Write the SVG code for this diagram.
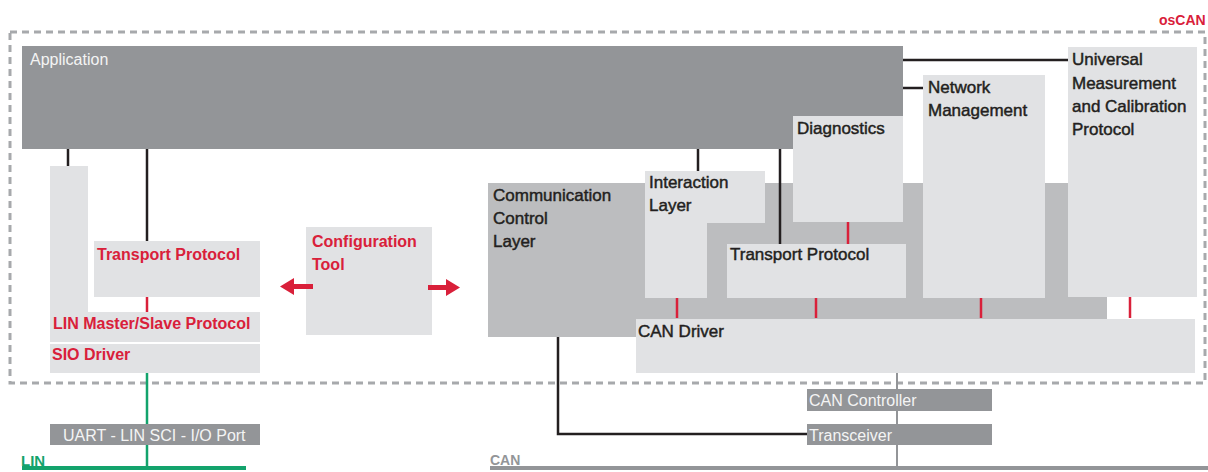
<svg xmlns="http://www.w3.org/2000/svg" width="1208" height="472" viewBox="0 0 1208 472">
<defs>
<style>
.dark{fill:#939598}
.light{fill:#e1e2e4}
.mid{fill:#bcbdbf}
.t{font-family:"Liberation Sans",Arial,sans-serif;font-size:17px;fill:#231f20;stroke:#231f20;stroke-width:0.45}
.tw{font-family:"Liberation Sans",Arial,sans-serif;font-size:16px;fill:#f4f4f4}
.tr{font-family:"Liberation Sans",Arial,sans-serif;font-size:16px;fill:#d9203a;font-weight:bold}
.blk{stroke:#231f20;stroke-width:2.5;fill:none}
.red{stroke:#d9203a;stroke-width:2.5;fill:none}
.grn{stroke:#13a36c;fill:none}
.gry{stroke:#939598;fill:none}
.arr{fill:#d9203a}
</style>
</defs>
<rect width="1208" height="472" fill="#ffffff"/>

<g id="oscan-boundary">
<rect x="10" y="32" width="1195" height="351" fill="none" stroke="#a7a9ac" stroke-width="3" stroke-dasharray="7,5"/>
<text x="1159" y="25" class="tr" style="font-size:14px">osCAN</text>
</g>

<g id="ccl">
<rect x="488" y="183" width="619" height="154" class="mid"/>
<text class="t"><tspan x="493" y="201">Communication</tspan><tspan x="493" y="224">Control</tspan><tspan x="493" y="247">Layer</tspan></text>
</g>

<g id="application">
<rect x="22" y="46" width="881" height="103" class="dark"/>
<text x="30" y="65" class="tw">Application</text>
</g>

<g id="diagnostics">
<rect x="793" y="116" width="110" height="106" class="light"/>
<text x="797" y="134" class="t">Diagnostics</text>
</g>

<g id="network-management">
<rect x="923" y="75" width="122" height="223" class="light"/>
<text class="t"><tspan x="928" y="93">Network</tspan><tspan x="928" y="116">Management</tspan></text>
</g>

<g id="xcp">
<rect x="1068" y="47" width="129" height="250" class="light"/>
<text class="t"><tspan x="1072" y="65">Universal</tspan><tspan x="1072" y="89">Measurement</tspan><tspan x="1072" y="112">and Calibration</tspan><tspan x="1072" y="135">Protocol</tspan></text>
</g>

<g id="interaction-layer">
<path d="M645,171 H765 V223 H707 V298 H645 Z" class="light"/>
<text class="t"><tspan x="649" y="188">Interaction</tspan><tspan x="649" y="211">Layer</tspan></text>
</g>

<g id="can-transport-protocol">
<rect x="727" y="244" width="179" height="54" class="light"/>
<text x="730" y="260" class="t">Transport Protocol</text>
</g>

<g id="can-driver">
<rect x="636" y="319" width="559" height="54" class="light"/>
<text x="638" y="337" class="t">CAN Driver</text>
</g>

<g id="lin-stack">
<rect x="50" y="166" width="38" height="146" class="light"/>
<rect x="50" y="312" width="210" height="30" class="light"/>
<text x="53" y="329" class="tr">LIN Master/Slave Protocol</text>
</g>

<g id="lin-transport-protocol">
<rect x="94" y="241" width="166" height="56" class="light"/>
<text x="97" y="260" class="tr">Transport Protocol</text>
</g>

<g id="sio-driver">
<rect x="50" y="344" width="210" height="29" class="light"/>
<text x="52" y="360" class="tr">SIO Driver</text>
</g>

<g id="configuration-tool">
<rect x="306" y="227" width="126" height="108" class="light"/>
<text class="tr"><tspan x="312" y="247">Configuration</tspan><tspan x="312" y="270">Tool</tspan></text>
</g>

<g id="uart">
<rect x="50" y="424" width="210" height="21" class="dark"/>
<text x="63" y="441" class="tw">UART - LIN SCI - I/O Port</text>
</g>

<g id="can-controller">
<rect x="807" y="389" width="185" height="22" class="dark"/>
<text x="809" y="406" class="tw">CAN Controller</text>
</g>

<g id="transceiver">
<rect x="807" y="424" width="185" height="21" class="dark"/>
<text x="809" y="441" class="tw">Transceiver</text>
</g>

<g id="lin-bus">
<text x="21" y="466" style="font-family:'Liberation Sans',Arial,sans-serif;font-size:15px;font-weight:bold;fill:#13a36c">LIN</text>
</g>

<g id="can-bus">
<text x="490" y="465" style="font-family:'Liberation Sans',Arial,sans-serif;font-size:14px;font-weight:bold;fill:#939598">CAN</text>
</g>

<g id="connectors">
<path class="blk" d="M68,149 V166"/>
<path class="blk" d="M147,149 V241"/>
<path class="blk" d="M698,149 V171"/>
<path class="blk" d="M780,149 V244"/>
<path class="blk" d="M903,60 H1068"/>
<path class="blk" d="M903,88 H923"/>
<path class="blk" d="M558,337 V434 H807"/>
<path class="red" d="M147,297 V312"/>
<path class="red" d="M848,222 V244"/>
<path class="red" d="M677,298 V318"/>
<path class="red" d="M816,298 V318"/>
<path class="red" d="M981,298 V318"/>
<path class="red" d="M1130,297 V318"/>
<path class="arr" d="M313,284 H294 V278 L280,286.5 L294,295 V289 H313 Z"/>
<path class="arr" d="M428,285 H446 V279 L460,287.5 L446,296 V290 H428 Z"/>
<path class="grn" stroke-width="2.5" d="M147,373 V424 M147,445 V468"/>
<path class="grn" stroke-width="4" d="M22,468 H246"/>
<path class="gry" stroke-width="2" d="M897,373 V389 M897,411 V424 M897,445 V468"/>
<path class="gry" stroke-width="4" d="M490,468 H1208"/>
</g>
</svg>
